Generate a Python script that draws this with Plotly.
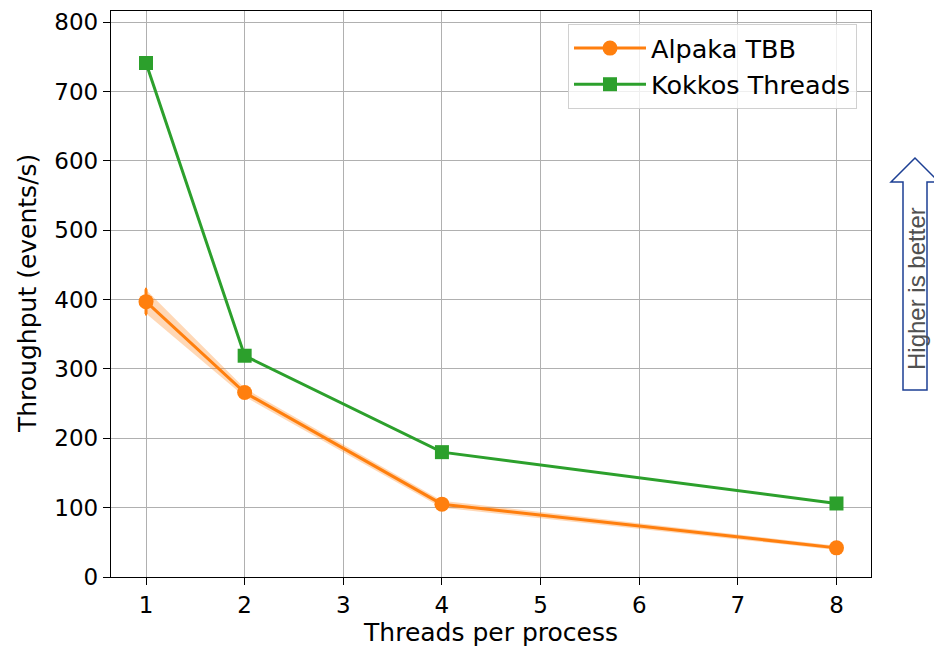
import plotly.graph_objects as go

threads = [1, 2, 4, 8]
alpaka_tbb = [397, 266, 105, 42]
alpaka_err = [18, 5, 4, 2]
alpaka_band = [17, 6, 5, 3]
kokkos_threads = [741, 319, 180, 106]
kokkos_err = [2, 2, 2, 2]

x_ticks = [1, 2, 3, 4, 5, 6, 7, 8]
y_ticks = [0, 100, 200, 300, 400, 500, 600, 700, 800]

ORANGE = "#ff7f0e"
GREEN = "#2ca02c"
FONT = "DejaVu Sans"

W, H = 934, 649
PL, PR, PT, PB = 111, 871, 11, 577   # plot area in screen px
L, T, R, B = PL, PT, W - PR, H - PB
pw, ph = PR - PL, PB - PT

def px(x):
    return (x - PL) / pw

def py(y):
    return (PB - y) / ph

fig = go.Figure()

upper = [v + e for v, e in zip(alpaka_tbb, alpaka_band)]
lower = [v - e for v, e in zip(alpaka_tbb, alpaka_band)]
fig.add_trace(go.Scatter(x=threads + threads[::-1], y=upper + lower[::-1],
                         mode="lines", fill="toself", fillcolor="rgba(255,127,14,0.3)",
                         line=dict(width=0), hoverinfo="skip", showlegend=False))

fig.add_trace(go.Scatter(x=threads, y=alpaka_tbb, name="Alpaka TBB", mode="lines+markers",
                         line=dict(color=ORANGE, width=3),
                         marker=dict(symbol="circle", size=15, color=ORANGE),
                         error_y=dict(type="data", array=alpaka_err, color=ORANGE,
                                      thickness=3, width=1)))
fig.add_trace(go.Scatter(x=threads, y=kokkos_threads, name="Kokkos Threads", mode="lines+markers",
                         line=dict(color=GREEN, width=3),
                         marker=dict(symbol="square", size=14, color=GREEN),
                         error_y=dict(type="data", array=kokkos_err, color=GREEN,
                                      thickness=3, width=1)))

# "Higher is better" arrow
path = "M {} {} L {} {} L {} {} L {} {} L {} {} L {} {} L {} {} Z".format(
    px(915), py(158), px(891), py(182), px(903), py(182), px(903), py(390),
    px(927), py(390), px(927), py(182), px(939), py(182))
fig.add_shape(type="path", path=path, xref="paper", yref="paper",
              line=dict(color="#1c3f94", width=1.5), fillcolor="white", layer="above")
fig.add_annotation(x=px(916), y=py(288), xref="paper", yref="paper",
                   xanchor="center", yanchor="middle",
                   text="Higher is better", textangle=-90, showarrow=False,
                   font=dict(family="Liberation Sans", size=24, color="#505050"))

# y-axis title placed precisely
fig.add_annotation(x=px(27), y=py(294), xref="paper", yref="paper",
                   xanchor="center", yanchor="middle",
                   text="Throughput (events/s)", textangle=-90, showarrow=False,
                   font=dict(family=FONT, size=25, color="black"))

axis_common = dict(showline=True, linecolor="black", linewidth=1.3, mirror=True,
                   ticks="outside", ticklen=7, tickwidth=1.3, tickcolor="black",
                   showgrid=True, gridcolor="#b0b0b0", gridwidth=1, zeroline=False,
                   tickfont=dict(family=FONT, size=23, color="black"))

fig.update_layout(
    width=W, height=H,
    margin=dict(l=L, r=R, t=T, b=B, autoexpand=False),
    plot_bgcolor="white", paper_bgcolor="white",
    font=dict(family=FONT, color="black"),
    xaxis=dict(range=[0.645, 8.35], tickvals=x_ticks,
               title=dict(text="Threads per process", font=dict(family=FONT, size=25), standoff=6),
               **axis_common),
    yaxis=dict(range=[0, 816], tickvals=y_ticks, **axis_common),
    legend=dict(x=px(857), y=py(24), xanchor="right", yanchor="top",
                bgcolor="rgba(255,255,255,0.8)", bordercolor="#d0d0d0", borderwidth=1,
                font=dict(family=FONT, size=25.5), itemwidth=72, tracegroupgap=0),
    showlegend=True,
)

fig.write_html("out.html", config={"displayModeBar": False},
               post_script="document.body.style.margin='0';document.body.style.overflow='hidden';")
